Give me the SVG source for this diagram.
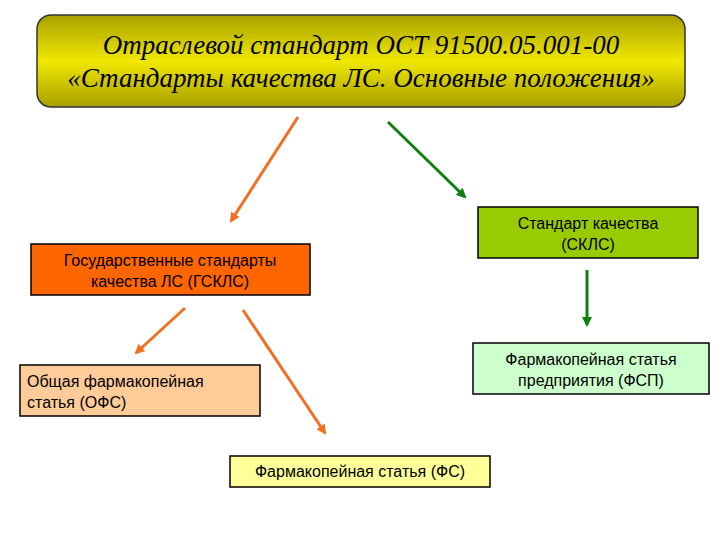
<svg xmlns="http://www.w3.org/2000/svg" width="720" height="540" viewBox="0 0 720 540">
<style>
.t{font-family:"Liberation Sans",Arial,sans-serif;font-size:16px;fill:#000}
.b{stroke:#000;stroke-width:1.5}
.o{stroke:#f07020;stroke-width:3;fill:none;marker-end:url(#ao)}
.g{stroke:#108010;stroke-width:3;fill:none;marker-end:url(#ag)}
</style>
<defs>
<linearGradient id="gy" x1="0" y1="0" x2="0" y2="1">
<stop offset="0" stop-color="#a8a000"/><stop offset="0.5" stop-color="#f0e800"/><stop offset="1" stop-color="#a8a000"/>
</linearGradient>
<marker id="ao" markerWidth="10" markerHeight="10" refX="8" refY="5" orient="auto" markerUnits="userSpaceOnUse"><path d="M0,0L10,5L0,10z" fill="#f07020"/></marker>
<marker id="ag" markerWidth="10" markerHeight="10" refX="8" refY="5" orient="auto" markerUnits="userSpaceOnUse"><path d="M0,0L10,5L0,10z" fill="#108010"/></marker>
</defs>
<rect width="720" height="540" fill="#fff"/>
<g id="top">
<rect x="37" y="15" width="648" height="92" rx="14" fill="url(#gy)" stroke="#333" stroke-width="1.5"/>
<text x="361" y="54" text-anchor="middle" font-family="Liberation Serif,serif" font-style="italic" font-size="27">Отраслевой стандарт ОСТ 91500.05.001-00</text>
<text x="361" y="87" text-anchor="middle" font-family="Liberation Serif,serif" font-style="italic" font-size="27">«Стандарты качества ЛС. Основные положения»</text>
</g>
<g id="gskls"><rect class="b" x="31" y="244" width="279" height="51" fill="#ff6600"/>
<text class="t" x="170" y="266" text-anchor="middle">Государственные стандарты</text>
<text class="t" x="170" y="287" text-anchor="middle">качества ЛС (ГСКЛС)</text></g>
<g id="skls"><rect class="b" x="478" y="207" width="220" height="51" fill="#99cc00"/>
<text class="t" x="588" y="229" text-anchor="middle">Стандарт качества</text>
<text class="t" x="588" y="250" text-anchor="middle">(СКЛС)</text></g>
<g id="fsp"><rect class="b" x="473" y="343" width="236" height="51" fill="#ccffcc"/>
<text class="t" x="591" y="365" text-anchor="middle">Фармакопейная статья</text>
<text class="t" x="591" y="386" text-anchor="middle">предприятия (ФСП)</text></g>
<g id="ofs"><rect class="b" x="20" y="365" width="240" height="51" fill="#ffcc99"/>
<text class="t" x="27" y="387">Общая фармакопейная</text>
<text class="t" x="27" y="408">статья (ОФС)</text></g>
<g id="fs"><rect class="b" x="230" y="456" width="260" height="31" fill="#ffff99"/>
<text class="t" x="360" y="477" text-anchor="middle">Фармакопейная статья (ФС)</text></g>
<g id="connectors">
<line class="o" x1="298" y1="117" x2="231" y2="221"/>
<line class="g" x1="388" y1="122" x2="465" y2="197"/>
<line class="g" x1="587" y1="270" x2="587" y2="325"/>
<line class="o" x1="185" y1="308" x2="136" y2="353"/>
<line class="o" x1="243" y1="310" x2="325" y2="433"/>
</g>
</svg>
